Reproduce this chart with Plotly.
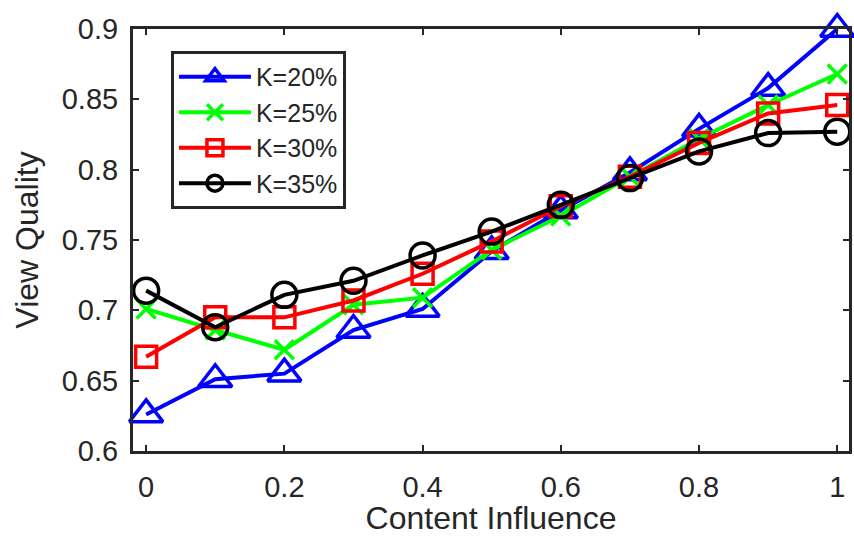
import plotly.graph_objects as go

x_vals = [0.0, 0.1, 0.2, 0.3, 0.4, 0.5, 0.6, 0.7, 0.8, 0.9, 1.0]
k20 = [0.626, 0.651, 0.655, 0.686, 0.701, 0.742, 0.771, 0.798, 0.829, 0.858, 0.900]
k25 = [0.701, 0.686, 0.672, 0.704, 0.709, 0.743, 0.767, 0.795, 0.822, 0.846, 0.868]
k30 = [0.667, 0.695, 0.695, 0.707, 0.726, 0.749, 0.774, 0.795, 0.819, 0.840, 0.846]
k35 = [0.714, 0.688, 0.711, 0.721, 0.739, 0.756, 0.775, 0.794, 0.813, 0.826, 0.827]
names = ["K=20%", "K=25%", "K=30%", "K=35%"]
colors = ["#0000FF", "#00FF00", "#FF0000", "#000000"]
symbols = ["triangle-up-open", "x-thin-open", "square-open", "circle-open"]
sizes = [29, 19, 21, 25]

x_ticks = [0, 0.2, 0.4, 0.6, 0.8, 1]
x_ticktext = ["0", "0.2", "0.4", "0.6", "0.8", "1"]
y_ticks = [0.6, 0.65, 0.7, 0.75, 0.8, 0.85, 0.9]
y_ticktext = ["0.6", "0.65", "0.7", "0.75", "0.8", "0.85", "0.9"]

FONT = "Liberation Sans, Arial, sans-serif"
GREY = "#262626"

fig = go.Figure()
for ys, name, c, s, sz in zip([k20, k25, k30, k35], names, colors, symbols, sizes):
    fig.add_trace(go.Scatter(
        x=x_vals, y=ys, name=name, mode="lines+markers",
        line=dict(color=c, width=4),
        marker=dict(symbol=s, size=sz, color=c, line=dict(color=c, width=3.5)),
        cliponaxis=False,
    ))

axis_common = dict(
    showline=True, linecolor=GREY, linewidth=3, mirror="ticks",
    ticks="inside", ticklen=6, tickwidth=2, tickcolor=GREY,
    showgrid=False, zeroline=False,
    tickfont=dict(family=FONT, size=29, color=GREY),
)

fig.update_layout(
    width=854, height=536,
    margin=dict(l=133, r=2, t=29, b=85),
    paper_bgcolor="white", plot_bgcolor="white",
    font=dict(family=FONT, color=GREY),
    xaxis=dict(range=[-0.019, 1.017], tickvals=x_ticks, ticktext=x_ticktext,
               title=dict(text="Content Influence", font=dict(family=FONT, size=32, color=GREY), standoff=6),
               ticklabelstandoff=8, **axis_common),
    yaxis=dict(range=[0.6, 0.9], tickvals=y_ticks, ticktext=y_ticktext,
               title=dict(text="View Quality", font=dict(family=FONT, size=32, color=GREY), standoff=14),
               ticklabelstandoff=6, **axis_common),
    legend=dict(x=0.053, y=0.948, xanchor="left", yanchor="top",
                bgcolor="white", bordercolor=GREY, borderwidth=3,
                font=dict(family=FONT, size=25, color=GREY),
                itemwidth=72, tracegroupgap=0),
    showlegend=True,
)

fig.write_html("out.html")
